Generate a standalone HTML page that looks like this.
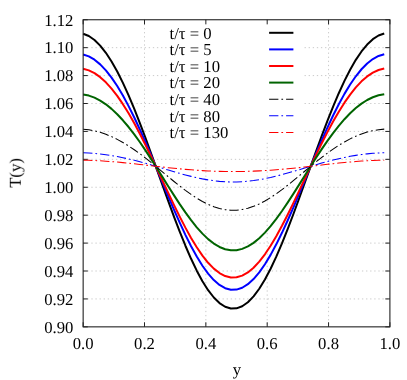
<!DOCTYPE html><html><head><meta charset="utf-8"><style>html,body{margin:0;padding:0;background:#fff}svg{display:block}text{text-rendering:geometricPrecision;font-family:"Liberation Serif",serif;font-size:16.7px;fill:#000}</style></head><body>
<svg width="407" height="380" viewBox="0 0 407 380">
<rect width="407" height="380" fill="#fff"/>
<path d="M144.50,19.75 V326.85 M205.85,19.75 V326.85 M267.20,19.75 V326.85 M328.55,19.75 V326.85 M83.15,298.93 H389.9 M83.15,271.01 H389.9 M83.15,243.10 H389.9 M83.15,215.18 H389.9 M83.15,187.26 H389.9 M83.15,159.34 H389.9 M83.15,131.42 H389.9 M83.15,103.50 H389.9 M83.15,75.59 H389.9 M83.15,47.67 H389.9" stroke="#c0c0c0" stroke-width="0.85" stroke-dasharray="1.3 2.8" fill="none"/>
<rect x="168.6" y="20.5" width="134.6" height="119.3" fill="#fff"/>
<path d="M83.15,326.85 v-4.6 M83.15,19.75 v4.6 M144.50,326.85 v-4.6 M144.50,19.75 v4.6 M205.85,326.85 v-4.6 M205.85,19.75 v4.6 M267.20,326.85 v-4.6 M267.20,19.75 v4.6 M328.55,326.85 v-4.6 M328.55,19.75 v4.6 M389.90,326.85 v-4.6 M389.90,19.75 v4.6 M83.15,326.85 h4.6 M389.9,326.85 h-4.6 M83.15,298.93 h4.6 M389.9,298.93 h-4.6 M83.15,271.01 h4.6 M389.9,271.01 h-4.6 M83.15,243.10 h4.6 M389.9,243.10 h-4.6 M83.15,215.18 h4.6 M389.9,215.18 h-4.6 M83.15,187.26 h4.6 M389.9,187.26 h-4.6 M83.15,159.34 h4.6 M389.9,159.34 h-4.6 M83.15,131.42 h4.6 M389.9,131.42 h-4.6 M83.15,103.50 h4.6 M389.9,103.50 h-4.6 M83.15,75.59 h4.6 M389.9,75.59 h-4.6 M83.15,47.67 h4.6 M389.9,47.67 h-4.6 M83.15,19.75 h4.6 M389.9,19.75 h-4.6" stroke="#222" stroke-width="1" fill="none"/>
<path d="M83.15,33.70 L88.83,36.00 L94.51,39.98 L100.19,45.59 L105.87,52.78 L111.55,61.46 L117.23,71.54 L122.91,82.91 L128.60,95.44 L134.28,108.98 L139.96,123.36 L145.64,138.42 L151.32,153.97 L157.00,169.79 L162.68,185.69 L168.36,201.46 L174.04,216.86 L179.72,231.69 L185.40,245.74 L191.08,258.80 L196.76,270.67 L202.44,281.18 L208.12,290.17 L213.81,297.50 L219.49,303.06 L225.17,306.75 L230.85,308.53 L236.53,308.37 L242.21,306.25 L247.89,302.23 L253.57,296.37 L259.25,288.74 L264.93,279.48 L270.61,268.72 L276.29,256.63 L281.97,243.39 L287.65,229.20 L293.33,214.25 L299.02,198.77 L304.70,182.97 L310.38,167.06 L316.06,151.27 L321.74,135.80 L327.42,120.84 L333.10,106.59 L338.78,93.21 L344.46,80.87 L350.14,69.72 L355.82,59.87 L361.50,51.44 L367.18,44.52 L372.86,39.18 L378.54,35.49 L384.23,33.48" stroke="#000000" stroke-width="2.0" fill="none" stroke-linejoin="round"/>
<path d="M83.15,54.50 L88.83,56.41 L94.51,59.71 L100.19,64.38 L105.87,70.36 L111.55,77.61 L117.23,86.04 L122.91,95.58 L128.60,106.12 L134.28,117.54 L139.96,129.72 L145.64,142.51 L151.32,155.76 L157.00,169.29 L162.68,182.93 L168.36,196.50 L174.04,209.80 L179.72,222.65 L185.40,234.84 L191.08,246.21 L196.76,256.57 L202.44,265.76 L208.12,273.63 L213.81,280.06 L219.49,284.94 L225.17,288.19 L230.85,289.75 L236.53,289.61 L242.21,287.75 L247.89,284.22 L253.57,279.07 L259.25,272.38 L264.93,264.27 L270.61,254.87 L276.29,244.33 L281.97,232.80 L287.65,220.48 L293.33,207.55 L299.02,194.19 L304.70,180.59 L310.38,166.95 L316.06,153.46 L321.74,140.28 L327.42,127.58 L333.10,115.52 L338.78,104.24 L344.46,93.87 L350.14,84.51 L355.82,76.28 L361.50,69.25 L367.18,63.48 L372.86,59.05 L378.54,55.98 L384.23,54.31" stroke="#0000ff" stroke-width="2.0" fill="none" stroke-linejoin="round"/>
<path d="M83.15,68.70 L88.83,70.34 L94.51,73.17 L100.19,77.18 L105.87,82.34 L111.55,88.59 L117.23,95.89 L122.91,104.16 L128.60,113.34 L134.28,123.32 L139.96,134.00 L145.64,145.26 L151.32,156.96 L157.00,168.95 L162.68,181.09 L168.36,193.20 L174.04,205.12 L179.72,216.65 L185.40,227.64 L191.08,237.91 L196.76,247.29 L202.44,255.63 L208.12,262.78 L213.81,268.63 L219.49,273.08 L225.17,276.04 L230.85,277.47 L236.53,277.33 L242.21,275.64 L247.89,272.42 L253.57,267.73 L259.25,261.64 L264.93,254.28 L270.61,245.75 L276.29,236.21 L281.97,225.80 L287.65,214.71 L293.33,203.09 L299.02,191.13 L304.70,179.01 L310.38,166.88 L316.06,154.92 L321.74,143.29 L327.42,132.12 L333.10,121.55 L338.78,111.70 L344.46,102.68 L350.14,94.56 L355.82,87.44 L361.50,81.37 L367.18,76.41 L372.86,72.60 L378.54,69.97 L384.23,68.54" stroke="#ff0000" stroke-width="2.0" fill="none" stroke-linejoin="round"/>
<path d="M83.15,94.40 L88.83,95.59 L94.51,97.65 L100.19,100.56 L105.87,104.31 L111.55,108.88 L117.23,114.21 L122.91,120.28 L128.60,127.02 L134.28,134.38 L139.96,142.28 L145.64,150.63 L151.32,159.33 L157.00,168.28 L162.68,177.36 L168.36,186.45 L174.04,195.41 L179.72,204.12 L185.40,212.42 L191.08,220.20 L196.76,227.32 L202.44,233.65 L208.12,239.10 L213.81,243.56 L219.49,246.95 L225.17,249.21 L230.85,250.30 L236.53,250.20 L242.21,248.90 L247.89,246.45 L253.57,242.87 L259.25,238.23 L264.93,232.63 L270.61,226.15 L276.29,218.91 L281.97,211.03 L287.65,202.65 L293.33,193.89 L299.02,184.90 L304.70,175.80 L310.38,166.73 L316.06,157.82 L321.74,149.17 L327.42,140.89 L333.10,133.08 L338.78,125.82 L344.46,119.19 L350.14,113.24 L355.82,108.04 L361.50,103.61 L367.18,100.00 L372.86,97.23 L378.54,95.32 L384.23,94.28" stroke="#006400" stroke-width="2.0" fill="none" stroke-linejoin="round"/>
<path d="M83.15,129.20 L88.83,129.81 L94.51,130.86 L100.19,132.35 L105.87,134.28 L111.55,136.62 L117.23,139.36 L122.91,142.48 L128.60,145.96 L134.28,149.76 L139.96,153.84 L145.64,158.16 L151.32,162.68 L157.00,167.33 L162.68,172.06 L168.36,176.79 L174.04,181.47 L179.72,186.02 L185.40,190.37 L191.08,194.44 L196.76,198.17 L202.44,201.50 L208.12,204.36 L213.81,206.70 L219.49,208.48 L225.17,209.67 L230.85,210.25 L236.53,210.19 L242.21,209.51 L247.89,208.22 L253.57,206.34 L259.25,203.90 L264.93,200.96 L270.61,197.56 L276.29,193.76 L281.97,189.64 L287.65,185.25 L293.33,180.68 L299.02,175.98 L304.70,171.24 L310.38,166.53 L316.06,161.89 L321.74,157.41 L327.42,153.12 L333.10,149.08 L338.78,145.34 L344.46,141.92 L350.14,138.86 L355.82,136.19 L361.50,133.92 L367.18,132.07 L372.86,130.65 L378.54,129.67 L384.23,129.14" stroke="#000000" stroke-width="1.05" fill="none" stroke-dasharray="9.3 3.0 1.7 3.0" stroke-linejoin="round"/>
<path d="M83.15,152.80 L88.83,153.02 L94.51,153.41 L100.19,153.96 L105.87,154.67 L111.55,155.53 L117.23,156.53 L122.91,157.67 L128.60,158.94 L134.28,160.32 L139.96,161.80 L145.64,163.36 L151.32,165.00 L157.00,166.67 L162.68,168.37 L168.36,170.07 L174.04,171.74 L179.72,173.37 L185.40,174.92 L191.08,176.37 L196.76,177.70 L202.44,178.88 L208.12,179.89 L213.81,180.73 L219.49,181.36 L225.17,181.78 L230.85,181.98 L236.53,181.96 L242.21,181.72 L247.89,181.26 L253.57,180.60 L259.25,179.73 L264.93,178.69 L270.61,177.48 L276.29,176.13 L281.97,174.66 L287.65,173.10 L293.33,171.46 L299.02,169.78 L304.70,168.08 L310.38,166.38 L316.06,164.71 L321.74,163.09 L327.42,161.54 L333.10,160.07 L338.78,158.71 L344.46,157.46 L350.14,156.35 L355.82,155.37 L361.50,154.53 L367.18,153.86 L372.86,153.33 L378.54,152.97 L384.23,152.78" stroke="#0000ff" stroke-width="1.05" fill="none" stroke-dasharray="9.3 3.0 1.7 3.0" stroke-linejoin="round"/>
<path d="M83.15,160.20 L88.83,160.32 L94.51,160.52 L100.19,160.80 L105.87,161.16 L111.55,161.59 L117.23,162.07 L122.91,162.62 L128.60,163.20 L134.28,163.82 L139.96,164.46 L145.64,165.12 L151.32,165.79 L157.00,166.44 L162.68,167.09 L168.36,167.71 L174.04,168.31 L179.72,168.86 L185.40,169.38 L191.08,169.85 L196.76,170.27 L202.44,170.63 L208.12,170.93 L213.81,171.18 L219.49,171.36 L225.17,171.49 L230.85,171.54 L236.53,171.54 L242.21,171.47 L247.89,171.34 L253.57,171.14 L259.25,170.89 L264.93,170.57 L270.61,170.20 L276.29,169.77 L281.97,169.29 L287.65,168.77 L293.33,168.21 L299.02,167.61 L304.70,166.98 L310.38,166.33 L316.06,165.67 L321.74,165.01 L327.42,164.35 L333.10,163.71 L338.78,163.10 L344.46,162.52 L350.14,161.99 L355.82,161.51 L361.50,161.09 L367.18,160.75 L372.86,160.48 L378.54,160.29 L384.23,160.19" stroke="#ff0000" stroke-width="1.05" fill="none" stroke-dasharray="9.3 3.0 1.7 3.0" stroke-linejoin="round"/>
<rect x="83.15" y="19.75" width="306.75" height="307.10" fill="none" stroke="#222" stroke-width="1.1"/>
<g opacity="0.999">
<text x="73.4" y="332.65" text-anchor="end">0.90</text>
<text x="73.4" y="304.73" text-anchor="end">0.92</text>
<text x="73.4" y="276.81" text-anchor="end">0.94</text>
<text x="73.4" y="248.90" text-anchor="end">0.96</text>
<text x="73.4" y="220.98" text-anchor="end">0.98</text>
<text x="73.4" y="193.06" text-anchor="end">1.00</text>
<text x="73.4" y="165.14" text-anchor="end">1.02</text>
<text x="73.4" y="137.22" text-anchor="end">1.04</text>
<text x="73.4" y="109.30" text-anchor="end">1.06</text>
<text x="73.4" y="81.39" text-anchor="end">1.08</text>
<text x="73.4" y="53.47" text-anchor="end">1.10</text>
<text x="73.4" y="25.55" text-anchor="end">1.12</text>
<text x="83.15" y="348.8" text-anchor="middle">0.0</text>
<text x="144.50" y="348.8" text-anchor="middle">0.2</text>
<text x="205.85" y="348.8" text-anchor="middle">0.4</text>
<text x="267.20" y="348.8" text-anchor="middle">0.6</text>
<text x="328.55" y="348.8" text-anchor="middle">0.8</text>
<text x="389.90" y="348.8" text-anchor="middle">1.0</text>
<text x="237" y="375" text-anchor="middle">y</text>
<text transform="translate(20.8,172.9) rotate(-90)" text-anchor="middle">T(y)</text>
<text x="169.6" y="38.50">t/τ = 0</text>
<path d="M269.1,32.80 H293.4" stroke="#000000" stroke-width="2.0" fill="none"/>
<text x="169.6" y="55.10">t/τ = 5</text>
<path d="M269.1,49.40 H293.4" stroke="#0000ff" stroke-width="2.0" fill="none"/>
<text x="169.6" y="71.70">t/τ = 10</text>
<path d="M269.1,66.00 H293.4" stroke="#ff0000" stroke-width="2.0" fill="none"/>
<text x="169.6" y="88.30">t/τ = 20</text>
<path d="M269.1,82.60 H293.4" stroke="#006400" stroke-width="2.0" fill="none"/>
<text x="169.6" y="104.90">t/τ = 40</text>
<path d="M269.1,99.20 H293.4" stroke="#000000" stroke-width="1.05" stroke-dasharray="9.3 3.0 1.7 3.0" fill="none"/>
<text x="169.6" y="121.50">t/τ = 80</text>
<path d="M269.1,115.80 H293.4" stroke="#0000ff" stroke-width="1.05" stroke-dasharray="9.3 3.0 1.7 3.0" fill="none"/>
<text x="169.6" y="138.10">t/τ = 130</text>
<path d="M269.1,132.40 H293.4" stroke="#ff0000" stroke-width="1.05" stroke-dasharray="9.3 3.0 1.7 3.0" fill="none"/>
</g>
</svg></body></html>
